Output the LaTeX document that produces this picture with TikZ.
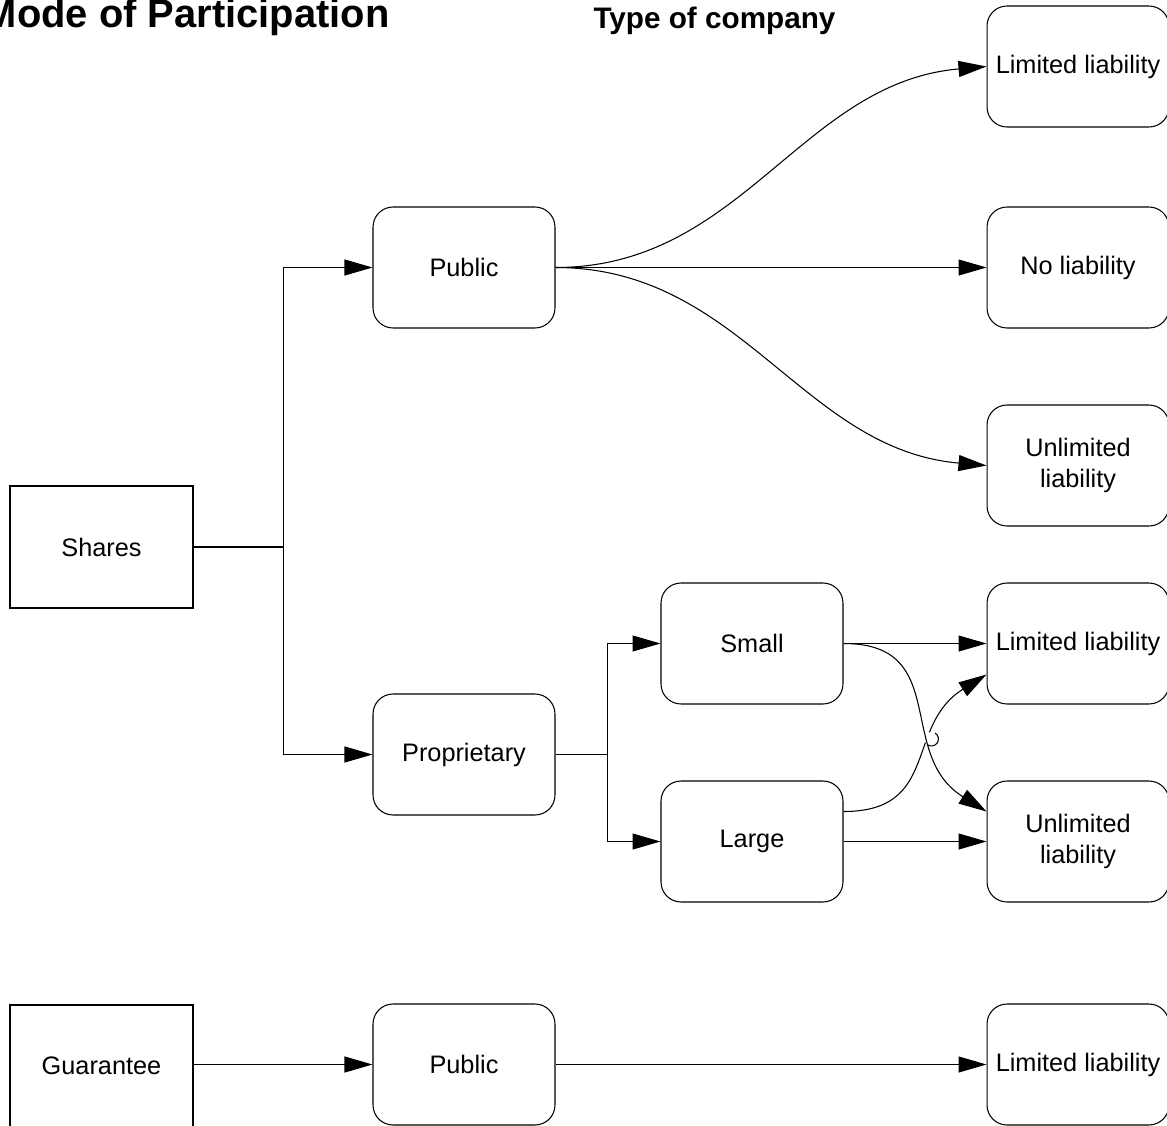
\documentclass[tikz,border=0pt]{standalone}
\usepackage{fontspec}
\setmainfont{Liberation Sans}
\usetikzlibrary{positioning, arrows.meta, intersections, calc}
\tikzset{
>={Triangle[length=0.56cm, width=0.32cm]}, % large filled arrow heads
every node/.style={font=\fontsize{14.4}{18}\selectfont},
modebox/.style={draw, minimum width=3.66cm, minimum height=2.44cm}, % mode of participation boxes
kindbox/.style={draw, rounded corners=0.4cm, minimum width=3.64cm, minimum height=2.42cm, align=center}, % company boxes
heading/.style={inner sep=0pt, font=\bfseries\fontsize{#1}{#1}\selectfont},
}

\begin{document}
\begin{tikzpicture}[x=0.02cm, y=-0.02cm, line width=0.6pt]
                \useasboundingbox (0,0) rectangle (1167,1126);
                \node[heading=22.7, anchor=base east] (title) at (390,27) {Mode of Participation};
                \node[heading=16.9, anchor=base] (subtitle) at (714.5,28) {Type of company};
                % left column
                \node[modebox] (shares) at (101.5,547) {Shares};
                \node[modebox] (guar) at (101.5,1066) {Guarantee};
                % middle columns
                \node[kindbox] (pub) at (464,267.5) {Public};
                \node[kindbox] (prop) at (464,754.5) {Proprietary};
                \node[kindbox] (small) at (752,643.5) {Small};
                \node[kindbox] (large) at (752,841.5) {Large};
                \node[kindbox] (gpub) at (464,1064.5) {Public};
                % right column
                \node[kindbox] (ll1) at (1078,66.5) {Limited liability};
                \node[kindbox] (nol) at (1078,267.5) {No liability};
                \node[kindbox] (ul1) at (1078,465.5) {Unlimited\\liability};
                \node[kindbox] (ll2) at (1078,643.5) {Limited liability};
                \node[kindbox] (ul2) at (1078,841.5) {Unlimited\\liability};
                \node[kindbox] (ll3) at (1078,1064.5) {Limited liability};
                \coordinate[right=1.8cm of shares.east] (split);
                \coordinate[right=1.04cm of prop.east] (fork);
                \draw (shares) -- (split);
                \draw[->] (split) |- (pub);
                \draw[->] (split) |- (prop);
                \draw (prop) -- (fork);
                \draw[->] (fork) |- (small);
                \draw[->] (fork) |- (large);
                \draw[->] (pub.east) to[out=0, in=185] (ll1.west);
                \draw[->] (pub) -- (nol);
                \draw[->] (pub.east) to[out=0, in=175] (ul1.west);
                \draw[->] (small) -- (ll2);
                \draw[->] (large) -- (ul2);
                \draw[->] (guar.east |- gpub.west) -- (gpub);
                \draw[->] (gpub) -- (ll3);
                % crossing with a line hop
                \path[name path=down] (small.east) to[out=0, in=148, looseness=1.25] ([yshift=0.6cm]ul2.west);
                \path[name path=up] ([yshift=0.6cm]large.east) to[out=0, in=212, looseness=1.25] ([yshift=-0.62cm]ll2.west);
                \path[name intersections={of=down and up, by=hop}];
                \draw[->] ([yshift=0.6cm]large.east) to[out=0, in=212, looseness=1.25] ([yshift=-0.62cm]ll2.west);
                \fill[white] (hop) circle[radius=0.14cm];
                \draw[->] (small.east) to[out=0, in=148, looseness=1.25] ([yshift=0.6cm]ul2.west);
                \draw ($(hop)+(238:0.14cm)$) arc[start angle=-122, end angle=58, radius=0.14cm];
                \end{tikzpicture}
\end{document}
